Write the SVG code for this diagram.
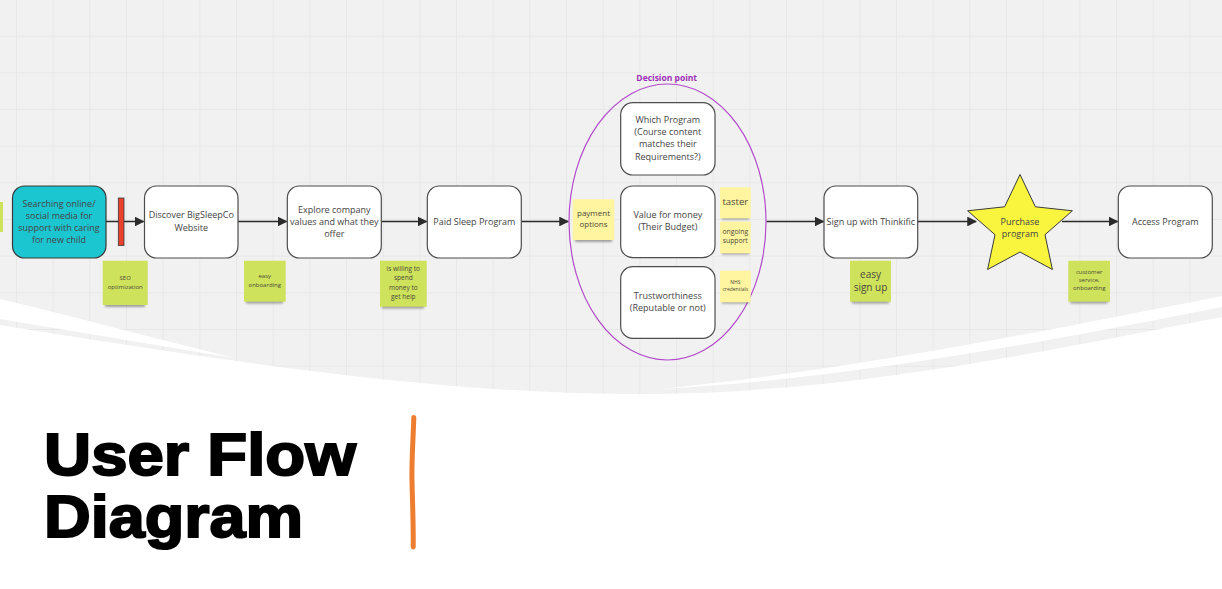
<svg xmlns="http://www.w3.org/2000/svg" width="1222" height="589" viewBox="0 0 1222 589">
  <defs>
    <style>
      .node { fill: #ffffff; stroke: #4d4d4d; stroke-width: 1.2; }
      .txt { font-family: "Open Sans", "Liberation Sans", sans-serif; fill: #444444; text-anchor: middle; }
      .t9 { font-size: 9px; }
      .conn { stroke: #2b2b2b; stroke-width: 1.5; fill: none; marker-end: url(#arrow); }
      .green { fill: #cfe25c; }
      .yellow { fill: #fff49f; }
      .shadow { fill: #3a3a3a; opacity: 0.45; filter: url(#soft); }
      .stxt { font-family: "Open Sans", "Liberation Sans", sans-serif; fill: #4a4a3a; text-anchor: middle; }
      .title { font-family: "Liberation Sans", Arial, sans-serif; font-weight: 900; font-size: 60px; fill: #000; stroke: #000; stroke-width: 2; }
    </style>
    <pattern id="grid" x="16" y="-1" width="36.667" height="36.667" patternUnits="userSpaceOnUse">
      <path d="M0 0.5H36.667M0.5 0V36.667" stroke="#e8e8e8" stroke-width="1" fill="none"/>
    </pattern>
    <filter id="soft" x="-20%" y="-100%" width="140%" height="300%">
      <feGaussianBlur stdDeviation="1.3"/>
    </filter>
    <marker id="arrow" viewBox="0 0 10 10" refX="9" refY="5" markerWidth="6.5" markerHeight="6.5" markerUnits="strokeWidth" orient="auto">
      <path d="M0 0L10 5L0 10Z" fill="#2b2b2b"/>
    </marker>
  </defs>

  <!-- slide background -->
  <rect width="1222" height="589" fill="#ffffff"/>

  <!-- board canvas with grid, cut by the wave -->
  <path d="M0 0H1222V317C1050 350 850 393 650 394C450 395 250 365 0 325Z" fill="#f1f1f1"/>
  <path d="M0 0H1222V317C1050 350 850 393 650 394C450 395 250 365 0 325Z" fill="url(#grid)"/>
  <!-- white swooshes -->
  <path d="M0 299C80 318 160 340 235 358C160 346 80 332 0 319Z" fill="#ffffff"/>
  <path d="M660 389C850 370 1050 330 1222 296L1222 307C1050 341 850 379 660 389Z" fill="#ffffff"/>

  <!-- sticky cut at the left edge -->
  <rect x="0" y="202" width="3" height="30" class="green"/>

  <!-- connectors -->
  <g id="connectors">
    <line x1="106" y1="221.5" x2="143.5" y2="221.5" class="conn"/>
    <line x1="238" y1="221.5" x2="286.5" y2="221.5" class="conn"/>
    <line x1="381.5" y1="221.5" x2="426.5" y2="221.5" class="conn"/>
    <line x1="521.5" y1="221.5" x2="568" y2="221.5" class="conn"/>
    <line x1="766.5" y1="221.5" x2="823.5" y2="221.5" class="conn"/>
    <line x1="918" y1="221.5" x2="976" y2="221.5" class="conn"/>
    <line x1="1062" y1="221.5" x2="1117.5" y2="221.5" class="conn"/>
  </g>

  <!-- red blocker on the first connector -->
  <g id="blocker">
    <rect x="118.3" y="198" width="5.7" height="47.5" fill="#e8412c" stroke="#3a3a3a" stroke-width="0.8"/>
  </g>

  <g id="node-search">
    <rect x="12.5" y="186" width="93.5" height="72" rx="12" fill="#1cc6d1" stroke="#3a3a3a" stroke-width="1.2"/>
    <text class="txt t9" x="59" y="206.5">Searching online/</text>
    <text class="txt t9" x="59" y="218.5">social media for</text>
    <text class="txt t9" x="59" y="230.5">support with caring</text>
    <text class="txt t9" x="59" y="242.5">for new child</text>
  </g>

  <g id="node-discover">
    <rect x="144.5" y="186" width="93.5" height="72" rx="12" class="node"/>
    <text class="txt t9" x="191.3" y="218.3">Discover BigSleepCo</text>
    <text class="txt t9" x="191.3" y="230.5">Website</text>
  </g>

  <g id="node-explore">
    <rect x="287.3" y="186" width="94" height="72" rx="12" class="node"/>
    <text class="txt t9" x="334.3" y="212.5">Explore company</text>
    <text class="txt t9" x="334.3" y="224.8">values and what they</text>
    <text class="txt t9" x="334.3" y="236.5">offer</text>
  </g>

  <g id="node-paid">
    <rect x="427.3" y="186" width="94" height="72" rx="12" class="node"/>
    <text class="txt t9" x="474.3" y="224.8">Paid Sleep Program</text>
  </g>

  <!-- decision group -->
  <g id="decision-point">
    <ellipse cx="667.5" cy="222" rx="98.5" ry="138" fill="none" stroke="#b24bca" stroke-width="1.2"/>
    <text x="666.7" y="80.5" font-family="'Open Sans', 'Liberation Sans', sans-serif" font-size="8.5" font-weight="bold" fill="#9d2fb6" text-anchor="middle">Decision point</text>
  </g>

  <g id="node-which">
    <rect x="620.7" y="102.7" width="94.3" height="72.3" rx="12" class="node"/>
    <text class="txt t9" x="667.8" y="123">Which Program</text>
    <text class="txt t9" x="667.8" y="135">(Course content</text>
    <text class="txt t9" x="667.8" y="147">matches their</text>
    <text class="txt t9" x="667.8" y="159.5">Requirements?)</text>
  </g>

  <g id="node-value">
    <rect x="620.7" y="186" width="94.3" height="71.7" rx="12" class="node"/>
    <text class="txt t9" x="667.8" y="218">Value for money</text>
    <text class="txt t9" x="667.8" y="229.7">(Their Budget)</text>
  </g>

  <g id="node-trust">
    <rect x="620.7" y="266.7" width="94.3" height="71.6" rx="12" class="node"/>
    <text class="txt t9" x="667.8" y="298.7">Trustworthiness</text>
    <text class="txt t9" x="667.8" y="311.3">(Reputable or not)</text>
  </g>

  <g id="node-signup">
    <rect x="824" y="186" width="93.7" height="72" rx="12" class="node"/>
    <text class="txt t9" x="870.8" y="224.8">Sign up with Thinkific</text>
  </g>

  <g id="node-purchase">
    <polygon points="1020,174.5 1035.4,206.8 1072.4,210.8 1045,234.7 1052.4,269.5 1020,252 987.6,269.5 995,234.7 967.6,210.8 1004.6,206.8" fill="#f9f53f" stroke="#3a3a3a" stroke-width="1"/>
    <text class="txt t9" x="1020" y="224.8">Purchase</text>
    <text class="txt t9" x="1020" y="236.5">program</text>
  </g>

  <g id="node-access">
    <rect x="1118.3" y="186" width="94" height="72" rx="12" class="node"/>
    <text class="txt t9" x="1165.3" y="224.8">Access Program</text>
  </g>

  <!-- sticky notes -->
  <g id="note-seo">
    <rect x="105" y="302" width="40" height="5" class="shadow"/>
    <rect x="102.7" y="260.7" width="45" height="44.3" class="green"/>
    <text class="stxt" font-size="6" x="125.2" y="279.7">SEO</text>
    <text class="stxt" font-size="6" x="125.2" y="289.3">optimization</text>
  </g>

  <g id="note-onboarding">
    <rect x="246" y="298.5" width="37" height="5" class="shadow"/>
    <rect x="244" y="260.7" width="41.7" height="41" class="green"/>
    <text class="stxt" font-size="6" x="264.8" y="278">easy</text>
    <text class="stxt" font-size="6" x="264.8" y="287">onboarding</text>
  </g>

  <g id="note-spend">
    <rect x="382" y="303.5" width="42" height="5" class="shadow"/>
    <rect x="380" y="260.7" width="46.7" height="46" class="green"/>
    <text class="stxt" font-size="6.5" x="403.3" y="270.6">is willing to</text>
    <text class="stxt" font-size="6.5" x="403.3" y="280">spend</text>
    <text class="stxt" font-size="6.5" x="403.3" y="289.6">money to</text>
    <text class="stxt" font-size="6.5" x="403.3" y="299">get help</text>
  </g>

  <g id="note-payment">
    <rect x="575" y="237" width="37" height="5" class="shadow"/>
    <rect x="572.7" y="199.3" width="41.6" height="40.7" class="yellow"/>
    <text class="stxt" font-size="8" x="593.5" y="216">payment</text>
    <text class="stxt" font-size="8" x="593.5" y="226.7">options</text>
  </g>

  <g id="note-taster">
    <rect x="722" y="215.5" width="27" height="4" class="shadow"/>
    <rect x="720" y="187.3" width="30.7" height="31" class="yellow"/>
    <text class="stxt" font-size="9.5" x="735.3" y="205">taster</text>
  </g>

  <g id="note-ongoing">
    <rect x="722" y="250.5" width="27" height="4" class="shadow"/>
    <rect x="720" y="221.7" width="30.7" height="31.6" class="yellow"/>
    <text class="stxt" font-size="6.8" x="735.3" y="234">ongoing</text>
    <text class="stxt" font-size="6.8" x="735.3" y="243.3">support</text>
  </g>

  <g id="note-nhs">
    <rect x="722" y="299.5" width="27" height="4" class="shadow"/>
    <rect x="720" y="270.7" width="30.7" height="31.6" class="yellow"/>
    <text class="stxt" font-size="5" x="735.3" y="283.5">NHS</text>
    <text class="stxt" font-size="5" x="735.3" y="291">credentials</text>
  </g>

  <g id="note-easy-signup">
    <rect x="852" y="298.5" width="37" height="5" class="shadow"/>
    <rect x="850" y="260.7" width="41" height="41" class="green"/>
    <text class="stxt" font-size="10" x="870.5" y="277.5">easy</text>
    <text class="stxt" font-size="10" x="870.5" y="290.8">sign up</text>
  </g>

  <g id="note-customer">
    <rect x="1070.5" y="298.5" width="37" height="5" class="shadow"/>
    <rect x="1068.3" y="260.7" width="41.7" height="41" class="green"/>
    <text class="stxt" font-size="6" x="1089.2" y="273.8">customer</text>
    <text class="stxt" font-size="6" x="1089.2" y="282.1">service,</text>
    <text class="stxt" font-size="6" x="1089.2" y="290.4">onboarding</text>
  </g>

  <!-- slide title -->
  <g id="title">
    <text class="title" x="44" y="475" textLength="312" lengthAdjust="spacingAndGlyphs">User Flow</text>
    <text class="title" x="44" y="536.7" textLength="259" lengthAdjust="spacingAndGlyphs">Diagram</text>
  </g>

  <!-- orange divider stroke -->
  <path d="M413.8 417.5C413.2 440 411.5 460 412 480C412.5 505 413.5 525 413.2 547" fill="none" stroke="#ed7d31" stroke-width="5" stroke-linecap="round"/>
</svg>
